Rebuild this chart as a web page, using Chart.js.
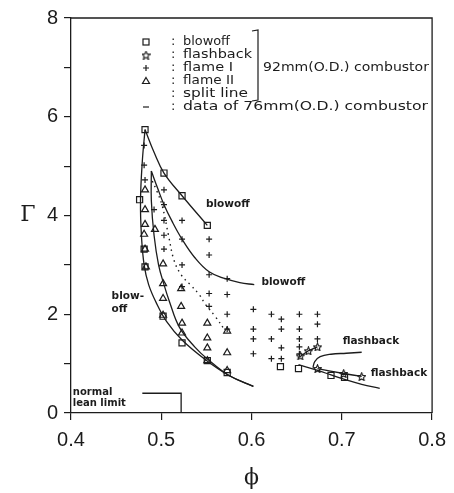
<!DOCTYPE html>
<html><head><meta charset="utf-8">
<script src="https://cdn.jsdelivr.net/npm/chart.js@4.4.0/dist/chart.umd.min.js"></script>
<style>html,body{margin:0;padding:0;background:#fff;}#wrap{width:454px;height:493px;position:relative;}</style>
</head><body><div id="wrap"><canvas id="c" width="454" height="493"></canvas></div>
<script>
// ---- axis ticks ----
const xTicks = [0.4, 0.5, 0.6, 0.7, 0.8];
const yTicks = [0, 1, 2, 3, 4, 5, 6, 7, 8];
const yLabelled = [0, 2, 4, 6, 8];

// ---- measured points (phi, Gamma) ----
const blowoffPhi   = [0.482,0.503,0.523,0.551,0.476,0.481,0.482,0.502,0.523,0.551,0.573,0.632,0.652,0.688,0.703];
const blowoffGamma = [5.74,4.86,4.40,3.80,4.32,3.32,2.96,1.96,1.42,1.06,0.82,0.94,0.90,0.76,0.72];

const flashPhi   = [0.654,0.663,0.673,0.673,0.702,0.722];
const flashGamma = [1.16,1.26,1.34,0.90,0.80,0.74];

const flame1Phi   = [0.481,0.481,0.482,0.492,0.503,0.503,0.503,0.503,0.503,0.523,0.523,0.523,0.523,
                     0.553,0.553,0.553,0.553,0.553,0.573,0.573,0.573,0.573,0.602,0.602,0.602,0.602,
                     0.622,0.622,0.622,0.633,0.633,0.633,0.633,0.653,0.653,0.653,0.653,0.653,0.673,0.673,0.673];
const flame1Gamma = [5.42,5.02,4.72,4.12,4.52,4.22,3.90,3.60,3.32,3.90,3.52,3.00,2.56,
                     3.52,3.20,2.80,2.42,2.16,2.72,2.40,2.00,1.70,2.10,1.70,1.50,1.20,
                     2.00,1.50,1.10,1.90,1.70,1.32,1.10,2.00,1.70,1.50,1.34,1.20,2.00,1.80,1.50];

const flame2Phi   = [0.482,0.482,0.482,0.481,0.482,0.483,0.493,0.502,0.502,0.502,0.502,0.522,0.522,0.523,0.523,
                     0.551,0.551,0.551,0.551,0.573,0.573,0.573];
const flame2Gamma = [4.52,4.12,3.82,3.62,3.32,2.96,3.72,3.02,2.62,2.32,1.98,2.52,2.16,1.82,1.62,
                     1.82,1.52,1.32,1.06,1.66,1.22,0.86];

// ---- boundary curves ----
const upperBlowPhi   = [0.482,0.492,0.503,0.523,0.551];
const upperBlowGamma = [5.74,5.28,4.86,4.40,3.80];
const leftBlowPhi    = [0.482,0.479,0.477,0.478,0.481,0.486,0.494,0.506,0.523,0.549,0.575,0.602];
const leftBlowGamma  = [5.74,5.10,4.30,3.60,3.00,2.60,2.25,1.85,1.48,1.08,0.76,0.54];
const innerPhi       = [0.489,0.489,0.492,0.497,0.503,0.509,0.520,0.537,0.552,0.575,0.602];
const innerGamma     = [4.90,4.30,3.60,3.00,2.60,2.26,1.74,1.34,1.08,0.76,0.54];
const midBlowPhi     = [0.489,0.496,0.503,0.512,0.523,0.537,0.553,0.571,0.587,0.603];
const midBlowGamma   = [4.90,4.55,4.22,3.88,3.52,3.15,2.86,2.72,2.64,2.60];
const splitPhi       = [0.490,0.495,0.501,0.508,0.514,0.522,0.532,0.542,0.549,0.560,0.571];
const splitGamma     = [4.70,4.50,4.20,3.60,3.10,2.80,2.60,2.40,2.20,1.95,1.66];
const flashUpPhi     = [0.652,0.663,0.673];
const flashUpGamma   = [1.12,1.26,1.34];
const flashSPhi      = [0.668,0.670,0.676,0.688,0.705,0.722];
const flashSGamma    = [0.92,1.04,1.14,1.19,1.21,1.23];
const rightLowPhi    = [0.652,0.674,0.688,0.703,0.722,0.742];
const rightLowGamma  = [0.98,0.86,0.77,0.68,0.58,0.50];
const flashLowPhi    = [0.673,0.702,0.722];
const flashLowGamma  = [0.90,0.80,0.74];
const leanLimitPhi   = [0.479,0.522,0.522];
const leanLimitGamma = [0.40,0.40,0.00];

const INK = '#1c1c1c';
const pts = (xs, ys) => xs.map((x, i) => ({x: x, y: ys[i]}));

function makeStar(size){
  const c = document.createElement('canvas'); c.width = c.height = size;
  const g = c.getContext('2d'); g.strokeStyle = INK; g.lineWidth = 1.1;
  g.beginPath();
  for (let i = 0; i < 10; i++) {
    const r = i % 2 ? size * 0.22 : size * 0.47;
    const a = -Math.PI / 2 + i * Math.PI / 5;
    const px = size / 2 + r * Math.cos(a), py = size / 2 + 0.5 + r * Math.sin(a);
    if (i) g.lineTo(px, py); else g.moveTo(px, py);
  }
  g.closePath(); g.stroke();
  return c;
}
const starImg = makeStar(9);

function curve(xs, ys, extra){
  return Object.assign({type:'scatter', data: pts(xs, ys), showLine: true, pointRadius: 0,
    borderColor: INK, borderWidth: 1.3, tension: 0.4, fill: false}, extra || {});
}
function marks(xs, ys, style, r){
  return {type:'scatter', data: pts(xs, ys), showLine: false, pointStyle: style, pointRadius: r,
    pointBorderColor: INK, pointBackgroundColor: 'rgba(0,0,0,0)', pointBorderWidth: 1.2, borderColor: INK};
}

const decor = {
  id: 'decor',
  afterDraw(chart){
    const ctx = chart.ctx, ca = chart.chartArea, xs = chart.scales.x, ys = chart.scales.y;
    const X = v => xs.getPixelForValue(v), Y = v => ys.getPixelForValue(v);
    ctx.save();
    // frame top & right
    ctx.strokeStyle = INK; ctx.lineWidth = 1.3;
    ctx.beginPath(); ctx.moveTo(ca.left, ca.top); ctx.lineTo(ca.right, ca.top); ctx.lineTo(ca.right, ca.bottom); ctx.stroke();
    ctx.fillStyle = INK; ctx.textBaseline = 'middle';
    const txt = (s, px, py, font, w, align) => {
      ctx.font = font; ctx.textAlign = 'left';
      const m = ctx.measureText(s).width;
      const sx = w ? w / m : 1;
      ctx.save(); ctx.translate(px, py); ctx.scale(sx, 1); ctx.fillText(s, 0, 0); ctx.restore();
    };
    // in-plot labels
    const lf = 'bold 10.5px "DejaVu Sans"';
    txt('blowoff', X(0.5495), Y(4.22), lf);
    txt('blowoff', X(0.611), Y(2.64), lf);
    txt('blow-', X(0.445), Y(2.36), lf);
    txt('off', X(0.445), Y(2.10), lf);
    txt('flashback', X(0.701), Y(1.46), lf);
    txt('flashback', X(0.732), Y(0.80), lf);
    txt('normal', X(0.402), Y(0.42), 'bold 10px "DejaVu Sans"');
    txt('lean limit', X(0.402), Y(0.20), 'bold 10px "DejaVu Sans"');
    // legend
    const gf = '13px "DejaVu Sans"';
    const rows = [42, 55, 68, 81, 94, 107];
    const sx = 146, cx = 171, tx = 183;
    const labels = ['blowoff','flashback','flame I','flame II','split line','data of 76mm(O.D.) combustor'];
    const widths = [47, 69, 50, 51, 65, 245];
    labels.forEach((s, i) => { txt(s, tx, rows[i], gf, widths[i]); txt(':', cx, rows[i], gf); });
    ctx.lineWidth = 1.2; ctx.strokeStyle = INK;
    // symbols
    ctx.strokeRect(sx - 3, rows[0] - 3, 6, 6);
    ctx.drawImage(starImg, sx - 4.5, rows[1] - 4.5);
    ctx.beginPath(); ctx.moveTo(sx - 3, rows[2]); ctx.lineTo(sx + 3, rows[2]); ctx.moveTo(sx, rows[2] - 3); ctx.lineTo(sx, rows[2] + 3); ctx.stroke();
    ctx.beginPath(); ctx.moveTo(sx, rows[3] - 3.5); ctx.lineTo(sx + 3.5, rows[3] + 2.5); ctx.lineTo(sx - 3.5, rows[3] + 2.5); ctx.closePath(); ctx.stroke();
    ctx.beginPath(); ctx.moveTo(sx - 3, rows[5]); ctx.lineTo(sx + 3, rows[5]); ctx.stroke();
    // bracket
    ctx.beginPath(); ctx.moveTo(252, 31); ctx.lineTo(258, 30); ctx.lineTo(258, 100); ctx.lineTo(252, 101); ctx.stroke();
    txt('92mm(O.D.) combustor', 263, 68, gf, 166);
    // axis titles
    ctx.textAlign = 'center';
    ctx.font = '22px "DejaVu Serif"';
    ctx.fillText('\u0393', 28, Y(4));
    ctx.fillText('\u03D5', (ca.left + ca.right) / 2, 478);
    ctx.restore();
  }
};

new Chart(document.getElementById('c'), {
  type: 'scatter',
  data: { datasets: [
    curve(upperBlowPhi, upperBlowGamma),
    curve(leftBlowPhi, leftBlowGamma),
    curve(innerPhi, innerGamma),
    curve(midBlowPhi, midBlowGamma),
    curve(splitPhi, splitGamma, {borderDash: [1.5, 4], borderWidth: 1.4}),
    curve(flashUpPhi, flashUpGamma, {tension: 0.2}),
    curve(flashSPhi, flashSGamma),
    curve(rightLowPhi, rightLowGamma),
    curve(flashLowPhi, flashLowGamma, {tension: 0.2}),
    curve(leanLimitPhi, leanLimitGamma, {tension: 0}),
    marks(blowoffPhi, blowoffGamma, 'rect', 4.3),
    marks(flashPhi, flashGamma, starImg, 4.5),
    marks(flame1Phi, flame1Gamma, 'cross', 3),
    marks(flame2Phi, flame2Gamma, 'triangle', 4)
  ]},
  options: {
    responsive: false, animation: false, devicePixelRatio: 1,
    layout: { padding: { top: 12, right: 19, left: 0, bottom: 0 } },
    plugins: { legend: { display: false }, tooltip: { enabled: false } },
    scales: {
      x: {
        type: 'linear', min: 0.4, max: 0.8,
        afterBuildTicks: s => { s.ticks = xTicks.map(v => ({value: v})); },
        afterFit: s => { s.height = 80; },
        ticks: { callback: v => Number(v).toFixed(1), color: INK, padding: 8, font: { family: 'Liberation Sans', size: 20 } },
        grid: { drawOnChartArea: false, drawTicks: true, tickLength: 7, color: INK, lineWidth: 1.2 },
        border: { display: true, color: INK, width: 1.3 }
      },
      y: {
        type: 'linear', min: 0, max: 8,
        afterBuildTicks: s => { s.ticks = yTicks.map(v => ({value: v})); },
        afterFit: s => { s.width = 71; },
        ticks: { callback: v => yLabelled.includes(v) ? String(v) : '', color: INK, padding: 6, font: { family: 'Liberation Sans', size: 20 } },
        grid: { drawOnChartArea: false, drawTicks: true, tickLength: 7, color: INK, lineWidth: 1.2 },
        border: { display: true, color: INK, width: 1.3 }
      }
    }
  },
  plugins: [decor]
});
</script></body></html>
